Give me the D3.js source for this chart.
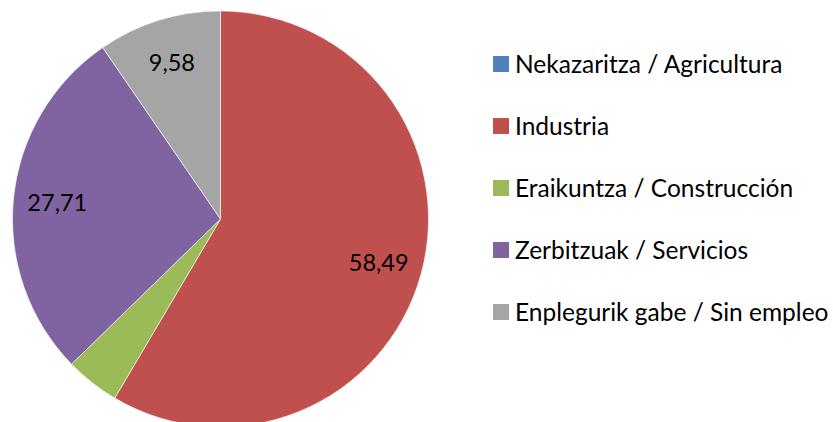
<!DOCTYPE html>
<html>
<head>
<meta charset="utf-8">
<script src="https://cdn.jsdelivr.net/npm/d3@7"></script>
<style>
  body { margin: 0; background: #fff; }
  svg { display: block; }
  text { font-family: Lato, "Open Sans", sans-serif; fill: #000; }
</style>
</head>
<body>
<div id="chart"></div>
<script>
// datos
const categories = [
  "Nekazaritza / Agricultura",
  "Industria",
  "Eraikuntza / Construcción",
  "Zerbitzuak / Servicios",
  "Enplegurik gabe / Sin empleo"
];
const values = [0, 58.49, 4.22, 27.71, 9.58];
const valueLabels = ["", "58,49", "", "27,71", "9,58"];
const colors = ["#4F81BD", "#C0504D", "#9BBB59", "#8064A2", "#A5A5A5"];

const width = 833, height = 422;
const cx = 220.5, cy = 219, radius = 208;

const svg = d3.select("#chart").append("svg")
    .attr("width", width)
    .attr("height", height);

const pie = d3.pie().sort(null).value(d => d.value);
const arcs = pie(categories.map((c, i) => ({ name: c, value: values[i], label: valueLabels[i], color: colors[i] })));

const arc = d3.arc().innerRadius(0).outerRadius(radius);
const labelArc = d3.arc().innerRadius(164).outerRadius(164);

const g = svg.append("g").attr("transform", `translate(${cx},${cy})`);

g.selectAll("path")
  .data(arcs)
  .enter()
  .append("path")
  .attr("d", arc)
  .attr("fill", d => d.data.color)
  .attr("stroke", "#fff")
  .attr("stroke-width", 0.6);

g.selectAll("text")
  .data(arcs.filter(d => d.data.label))
  .enter()
  .append("text")
  .attr("transform", d => `translate(${labelArc.centroid(d)})`)
  .attr("text-anchor", "middle")
  .attr("dy", "0.36em")
  .attr("font-size", 23.5)
  .text(d => d.data.label);

// leyenda
const y = d3.scalePoint().domain(categories).range([64, 312]);

const legend = svg.append("g")
  .selectAll("g")
  .data(categories)
  .enter()
  .append("g")
  .attr("transform", d => `translate(493,${y(d)})`);

legend.append("rect")
  .attr("x", 0)
  .attr("y", -8)
  .attr("width", 16)
  .attr("height", 16)
  .attr("fill", (d, i) => colors[i]);

legend.append("text")
  .attr("x", 22)
  .attr("dy", "0.36em")
  .attr("font-size", 24.5)
  .text(d => d);
</script>
</body>
</html>
